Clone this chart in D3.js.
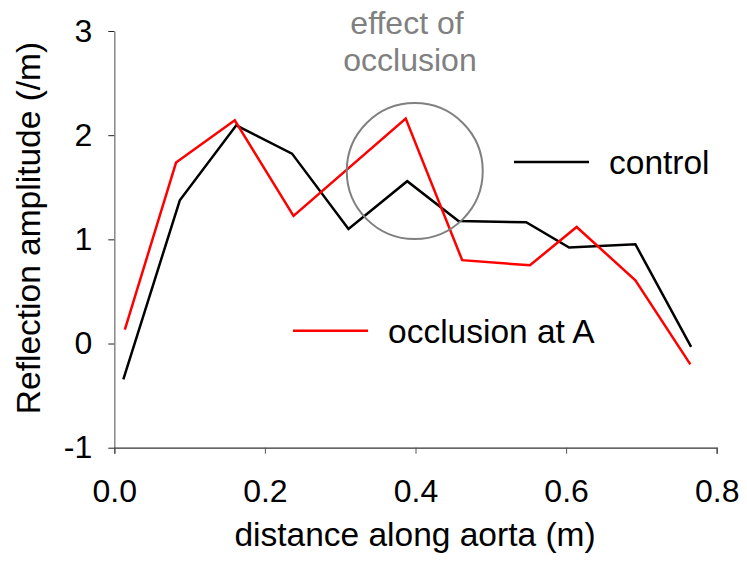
<!DOCTYPE html>
<html>
<head>
<meta charset="utf-8">
<script src="https://d3js.org/d3.v7.min.js"></script>
<style>
  body { margin: 0; background: #fff; }
  text { font-family: "Liberation Sans", Arial, sans-serif; }
</style>
</head>
<body>
<script>
// values
var controlX = [0.012, 0.087, 0.162, 0.236, 0.311, 0.389, 0.457, 0.547, 0.604, 0.692, 0.766];
var controlY = [-0.345, 1.375, 2.095, 1.823, 1.10, 1.558, 1.177, 1.164, 0.921, 0.953, -0.033];
var occlX = [0.014, 0.082, 0.160, 0.238, 0.387, 0.462, 0.552, 0.614, 0.692, 0.765];
var occlY = [0.134, 1.737, 2.143, 1.225, 2.159, 0.80, 0.751, 1.119, 0.607, -0.20];
var xTicks = [0, 0.2, 0.4, 0.6, 0.8];
var yTicks = [-1, 0, 1, 2, 3];
var seriesNames = ["control", "occlusion at A"];
var circleCentre = [0.399, 1.656];

var W = 747, H = 568;
var svg = d3.select("body").append("svg")
  .attr("width", W)
  .attr("height", H);

var x = d3.scaleLinear().domain([0, 0.8]).range([114.3, 716.7]);
var y = d3.scaleLinear().domain([-1, 3]).range([447.7, 31]);

// axes
var xAx = d3.axisBottom(x)
  .tickValues(xTicks)
  .tickSize(6)
  .tickPadding(26)
  .tickFormat(d3.format(".1f"));
var yAx = d3.axisLeft(y)
  .tickValues(yTicks)
  .tickSize(6)
  .tickSizeOuter(0)
  .tickPadding(16)
  .tickFormat(function(d) { return String(d); }); // plain hyphen for -1

var yG = svg.append("g")
  .attr("transform", `translate(${x(0)},0)`)
  .call(yAx);
yG.select(".domain").attr("stroke", "#888").attr("stroke-width", 1.5);
yG.selectAll(".tick line").attr("stroke", "#222");
yG.selectAll(".tick text")
  .attr("font-size", 32)
  .attr("fill", "#000")
  .attr("font-family", "Liberation Sans, Arial, sans-serif");

var xG = svg.append("g")
  .attr("transform", `translate(0,${y(-1)})`)
  .call(xAx);
xG.select(".domain").attr("stroke", "#333").attr("stroke-width", 1.2);
xG.selectAll(".tick line").attr("stroke", "#555");
xG.selectAll(".tick text")
  .attr("font-size", 32)
  .attr("fill", "#000")
  .attr("font-family", "Liberation Sans, Arial, sans-serif");

// axis titles
svg.append("text")
  .attr("x", 415)
  .attr("y", 546)
  .attr("text-anchor", "middle")
  .attr("font-size", 33.5)
  .text("distance along aorta (m)");

svg.append("text")
  .attr("transform", "translate(40,228) rotate(-90)")
  .attr("text-anchor", "middle")
  .attr("font-size", 33.5)
  .text("Reflection amplitude (/m)");

// lines
var line = d3.line()
  .x(function(d) { return x(d[0]); })
  .y(function(d) { return y(d[1]); });

var control = controlX.map(function(v, i) { return [v, controlY[i]]; });
var occl = occlX.map(function(v, i) { return [v, occlY[i]]; });

svg.append("path")
  .datum(control)
  .attr("d", line)
  .attr("fill", "none")
  .attr("stroke", "#000")
  .attr("stroke-width", 2.5);

svg.append("path")
  .datum(occl)
  .attr("d", line)
  .attr("fill", "none")
  .attr("stroke", "#ff0000")
  .attr("stroke-width", 2.5);

// annotation circle
svg.append("circle")
  .attr("cx", x(circleCentre[0]))
  .attr("cy", y(circleCentre[1]))
  .attr("r", 68)
  .attr("fill", "none")
  .attr("stroke", "#808080")
  .attr("stroke-width", 2);

var ann = svg.append("text")
  .attr("text-anchor", "middle")
  .attr("font-size", 32)
  .attr("fill", "#808080");
ann.append("tspan").attr("x", 407).attr("y", 34).text("effect of");
ann.append("tspan").attr("x", 410).attr("y", 71).text("occlusion");

// legends
var legend = [
  { name: seriesNames[0], color: "#000", x1: 514, x2: 589, y: 162, tx: 609 },
  { name: seriesNames[1], color: "#ff0000", x1: 293, x2: 368, y: 330.7, tx: 388 }
];
legend.forEach(function(l) {
  svg.append("line")
    .attr("x1", l.x1).attr("x2", l.x2)
    .attr("y1", l.y).attr("y2", l.y)
    .attr("stroke", l.color)
    .attr("stroke-width", 2.5);
  svg.append("text")
    .attr("x", l.tx)
    .attr("y", l.y + 12)
    .attr("font-size", 33.5)
    .text(l.name);
});
</script>
</body>
</html>
